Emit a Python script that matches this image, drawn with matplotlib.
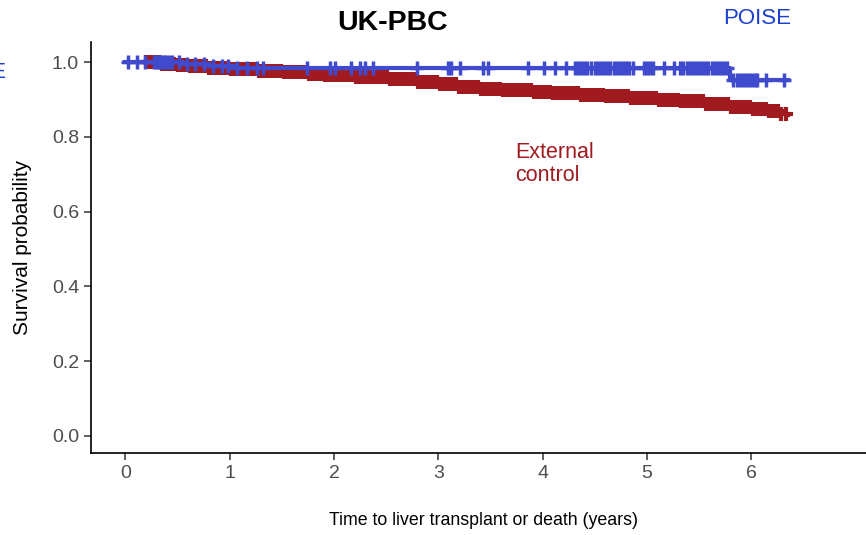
import matplotlib
matplotlib.use('Agg')
import matplotlib.pyplot as plt

plt.rcParams['font.family'] = ['Liberation Sans', 'DejaVu Sans']

# Kaplan-Meier step points (time in years, survival)
poise_times = [0.0, 0.55, 0.80, 1.05, 5.80, 6.35]
poise_surv = [1.0, 0.995, 0.990, 0.985, 0.952, 0.952]
poise_censor = [0.03, 0.11, 0.19, 0.27, 0.29, 0.31, 0.33, 0.35, 0.37, 0.39, 0.42,
                0.45, 0.51, 0.59, 0.67, 0.75, 0.84, 0.93, 0.98, 1.07, 1.17, 1.26,
                1.32, 1.74, 1.96, 2.01, 2.16, 2.25, 2.30, 2.37, 2.80, 3.09, 3.12,
                3.21, 3.43, 3.48, 3.86, 4.01, 4.12, 4.22, 4.31, 4.34, 4.37, 4.40,
                4.43, 4.46, 4.50, 4.53, 4.56, 4.59, 4.62, 4.65, 4.68, 4.71, 4.74,
                4.77, 4.80, 4.83, 4.87, 4.97, 5.00, 5.03, 5.06, 5.16, 5.26, 5.32,
                5.35, 5.38, 5.41, 5.44, 5.47, 5.50, 5.53, 5.56, 5.59, 5.62, 5.65,
                5.68, 5.71, 5.74, 5.77, 5.83, 5.86, 5.89, 5.92, 5.95, 5.98, 6.01,
                6.04, 6.06, 6.14, 6.31]

ext_times = [0.17, 0.35, 0.50, 0.62, 0.80, 1.00, 1.26, 1.50, 1.75, 1.90, 2.20,
             2.54, 2.80, 3.00, 3.18, 3.40, 3.60, 3.90, 4.10, 4.36, 4.60, 4.85,
             5.10, 5.32, 5.55, 5.80, 6.00, 6.15, 6.28, 6.35]
ext_surv = [1.0, 0.996, 0.992, 0.988, 0.985, 0.981, 0.977, 0.972, 0.967, 0.964,
            0.960, 0.955, 0.946, 0.940, 0.934, 0.929, 0.925, 0.920, 0.917, 0.913,
            0.908, 0.903, 0.899, 0.895, 0.889, 0.881, 0.874, 0.868, 0.860, 0.857]
ext_censor = [0.20, 0.23, 0.26, 0.29, 0.32, 0.35, 0.38, 0.41, 0.44, 0.47, 0.50,
              0.53, 0.56, 0.59, 0.62, 0.65, 0.68, 0.71, 0.74, 0.77, 0.80, 0.83,
              0.86, 0.89, 0.92, 0.95, 0.98, 1.01, 1.04, 1.07, 1.10, 1.13, 1.16,
              1.19, 1.22, 1.25, 1.28, 1.31, 1.34, 1.37, 1.40, 1.43, 1.46, 1.49,
              1.52, 1.55, 1.58, 1.61, 1.64, 1.67, 1.70, 1.73, 1.76, 1.79, 1.82,
              1.85, 1.88, 1.91, 1.94, 1.97, 2.00, 2.03, 2.06, 2.09, 2.12, 2.15,
              2.18, 2.21, 2.24, 2.27, 2.30, 2.33, 2.36, 2.39, 2.42, 2.45, 2.48,
              2.51, 2.54, 2.57, 2.60, 2.63, 2.66, 2.69, 2.72, 2.75, 2.78, 2.81,
              2.84, 2.87, 2.90, 2.93, 2.96, 2.99, 3.02, 3.05, 3.08, 3.11, 3.14,
              3.17, 3.20, 3.23, 3.26, 3.29, 3.32, 3.35, 3.38, 3.41, 3.44, 3.47,
              3.50, 3.53, 3.56, 3.59, 3.62, 3.65, 3.68, 3.71, 3.74, 3.77, 3.80,
              3.83, 3.86, 3.89, 3.92, 3.95, 3.98, 4.01, 4.04, 4.07, 4.10, 4.13,
              4.16, 4.19, 4.22, 4.25, 4.28, 4.31, 4.34, 4.37, 4.40, 4.43, 4.46,
              4.49, 4.52, 4.55, 4.58, 4.61, 4.64, 4.67, 4.70, 4.73, 4.76, 4.79,
              4.82, 4.85, 4.88, 4.91, 4.94, 4.97, 5.00, 5.03, 5.06, 5.09, 5.12,
              5.15, 5.18, 5.21, 5.24, 5.27, 5.30, 5.33, 5.36, 5.39, 5.42, 5.45,
              5.48, 5.51, 5.54, 5.57, 5.60, 5.63, 5.66, 5.69, 5.72, 5.75, 5.78,
              5.81, 5.84, 5.87, 5.90, 5.93, 5.96, 5.99, 6.02, 6.05, 6.08, 6.11,
              6.14, 6.17, 6.20, 6.23, 6.26, 6.29, 6.33]

blue = '#3f4bcc'
red = '#a01a1f'


def surv_at(times, surv, t):
    val = surv[0]
    for ti, si in zip(times, surv):
        if ti <= t:
            val = si
    return val


fig = plt.figure(figsize=(8.66, 5.35), dpi=100)
ax = fig.add_axes([0.105, 0.1533, 0.907, 0.7682])

ax.step(ext_times, ext_surv, where='post', color=red, lw=3, zorder=2)
ax.plot(ext_censor, [surv_at(ext_times, ext_surv, t) for t in ext_censor],
        ls='none', marker='+', ms=10.5, mew=3, color=red, zorder=2)

ax.step(poise_times, poise_surv, where='post', color=blue, lw=3, zorder=3)
ax.plot(poise_censor, [surv_at(poise_times, poise_surv, t) for t in poise_censor],
        ls='none', marker='+', ms=10, mew=2.5, color=blue, zorder=3)

ax.set_xlim(-0.33, 7.2)
ax.set_ylim(-0.0455, 1.0535)
ax.set_xticks([0, 1, 2, 3, 4, 5, 6])
ax.set_yticks([0.0, 0.2, 0.4, 0.6, 0.8, 1.0])
ax.set_yticklabels(['0.0', '0.2', '0.4', '0.6', '0.8', '1.0'])
for s in ['top', 'right']:
    ax.spines[s].set_visible(False)
for s in ['left', 'bottom']:
    ax.spines[s].set_linewidth(1.2)
ax.tick_params(labelsize=14, labelcolor='#4d4d4d', length=5, width=1.1, color='#333333')
ax.tick_params(axis='x', pad=4)

ax.set_xlabel('Time to liver transplant or death (years)', fontsize=12.8, labelpad=21)
ax.set_ylabel('Survival probability', fontsize=15, labelpad=14)

fig.text(393 / 866, 1 - 23 / 535, 'UK-PBC', fontsize=20.5, fontweight='bold',
         ha='center', va='center')
fig.text(723 / 866, 1 - 18 / 535, 'POISE', fontsize=16, color='#1a3fcc',
         ha='left', va='center')
fig.text(6 / 866, 1 - 73 / 535, 'POISE', fontsize=16, color='#1a3fcc',
         ha='right', va='center')
fig.text(515 / 866, 1 - 164 / 535, 'External\ncontrol', fontsize=15.5, color=red,
         ha='left', va='center', linespacing=1.15)

fig.savefig('out.png', dpi=100)
